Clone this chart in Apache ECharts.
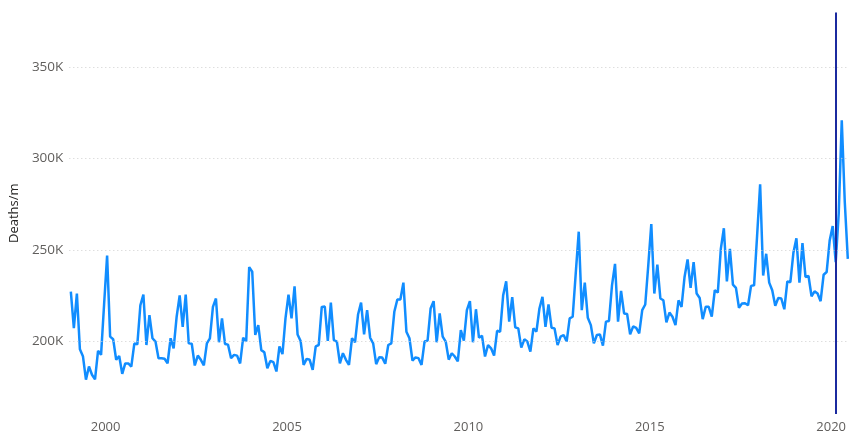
<!DOCTYPE html>
<html>
<head>
<meta charset="utf-8">
<script src="https://cdn.jsdelivr.net/npm/echarts@6/dist/echarts.min.js"></script>
<style>
  html, body { margin: 0; padding: 0; background: #fff; }
  #chart { width: 849px; height: 434px; }
</style>
</head>
<body>
<div id="chart"></div>
<script>
// Monthly deaths (thousands), Jan..Dec
const d1999 = [227, 207, 226, 195.5, 191.7, 178.8, 186, 181.5, 179, 194.6, 192.4, 220];
const d2000 = [246.8, 202.4, 201, 189.7, 191.8, 182, 187.7, 187.7, 186, 198.6, 198.2, 219.6];
const d2001 = [225.4, 197.8, 214.2, 201.5, 199.7, 190.6, 190.6, 190.3, 187.8, 201.5, 196, 213.3];
const d2002 = [225, 207.8, 225.4, 198.7, 198.5, 186.6, 192, 189.7, 186.6, 198.7, 201.5, 218.7];
const d2003 = [223.3, 199.3, 212.4, 198.4, 198, 190.6, 192.4, 192, 187.7, 201.8, 199.7, 240.5];
const d2004 = [238, 203.3, 208.7, 195, 193.8, 185.1, 189.1, 188.4, 183.3, 197, 192.8, 212.4];
const d2005 = [225.4, 212.4, 230, 203.6, 200, 186.9, 190.2, 189.7, 184.2, 197.1, 197.8, 218.7];
const d2006 = [218.9, 200, 221, 200.5, 199.7, 187.8, 193.3, 189.7, 186.9, 201.5, 199.3, 214.5];
const d2007 = [221, 203.6, 216.9, 201.8, 198.7, 187.3, 191.1, 190.9, 187.5, 197.8, 198.7, 216];
const d2008 = [222.7, 222.7, 232, 205.1, 201.5, 189.3, 191, 190.6, 186.9, 199.7, 200.2, 217.8];
const d2009 = [221.8, 199.3, 215.1, 202.4, 199.7, 189.8, 193.3, 191.5, 188.8, 206, 200.2, 216.9];
const d2010 = [221.8, 199.3, 217.4, 201.8, 202.9, 191.5, 197.8, 196, 192, 205.6, 205.1, 225];
const d2011 = [232.7, 210.6, 224, 207.5, 206.9, 196.4, 200.9, 199.7, 194.2, 206.9, 205.1, 217.8];
const d2012 = [224.2, 207.8, 220, 207.3, 206.9, 197.8, 202.4, 203.3, 199.7, 212.4, 213.3, 236.9];
const d2013 = [259.9, 216.9, 232, 212.7, 208.7, 198.7, 203.3, 203.6, 197.5, 210.6, 211, 230.5];
const d2014 = [242.3, 210.6, 227.5, 215.1, 214.8, 203.6, 208, 207.2, 204.2, 216.9, 220, 241.4];
const d2015 = [264.1, 226, 241.8, 223.3, 222.3, 210.2, 215.6, 213.3, 208.7, 222.3, 218.7, 235.1];
const d2016 = [244.7, 229.1, 243.2, 226, 223.6, 212, 218.7, 218.7, 213.3, 227.8, 226.5, 250.5];
const d2017 = [261.8, 232.7, 250.5, 230.9, 229.1, 218.2, 220.5, 220.7, 219.6, 230.2, 230.5, 257.7];
const d2018 = [285.9, 235.9, 247.8, 232, 227.8, 219.3, 223.6, 223.3, 217.4, 232.7, 232.2, 248.3];
const d2019 = [256.3, 232, 253.6, 235.1, 235.6, 224.5, 227.2, 226, 221.8, 236.3, 237.8, 255];
const d2020 = [263, 243.2, 270, 321, 276, 245];

const firstYear = 1999;
const yearly = [d1999, d2000, d2001, d2002, d2003, d2004, d2005, d2006, d2007, d2008, d2009,
                d2010, d2011, d2012, d2013, d2014, d2015, d2016, d2017, d2018, d2019, d2020];

const xTickYears = [2000, 2005, 2010, 2015, 2020];
const yTicks = [200, 250, 300, 350];
const markerYear = 2020 + 1.5 / 12;   // vertical marker (Feb 2020)
const yAxisName = 'Deaths/m';

// Build [decimal year (mid-month), value] pairs
const seriesData = [];
yearly.forEach((arr, yi) => {
  arr.forEach((v, mi) => {
    seriesData.push([firstYear + yi + (mi + 0.5) / 12, v]);
  });
});

const FONT = "'Segoe UI', 'Open Sans', sans-serif";
const chart = echarts.init(document.getElementById('chart'), null, { renderer: 'canvas' });

chart.setOption({
  animation: false,
  grid: { left: 67, right: 0, top: 12.5, bottom: 19 },
  xAxis: {
    type: 'value',
    min: 1999,
    max: 2020.454,
    interval: 1,
    axisLine: { show: false },
    axisTick: { show: false },
    splitLine: { show: false },
    axisLabel: {
      margin: 7,
      color: '#605E5C',
      fontFamily: FONT,
      fontSize: 13,
      showMaxLabel: false,
      formatter: (v) => {
        const r = Math.round(v);
        return (Math.abs(v - r) < 1e-6 && xTickYears.includes(r)) ? String(r) : '';
      }
    }
  },
  yAxis: {
    type: 'value',
    min: 160,
    max: 380,
    interval: 10,
    name: yAxisName,
    nameLocation: 'middle',
    nameGap: 40,
    nameTextStyle: { color: '#252423', fontFamily: FONT, fontSize: 13 },
    axisLine: { show: false },
    axisTick: { show: false },
    splitLine: { show: false },
    axisLabel: {
      margin: 6,
      color: '#605E5C',
      fontFamily: FONT,
      fontSize: 13.5,
      formatter: (v) => {
        const r = Math.round(v);
        return (Math.abs(v - r) < 1e-6 && yTicks.includes(r)) ? r + 'K' : '';
      }
    }
  },
  series: [{
    type: 'line',
    data: seriesData,
    showSymbol: false,
    clip: true,
    lineStyle: { color: '#118DFF', width: 2.5 },
    itemStyle: { color: '#118DFF' },
    z: 2,
    markLine: {
      silent: true,
      symbol: ['none', 'none'],
      label: { show: false },
      emphasis: { disabled: true },
      data: [
        ...yTicks.map(t => ({ yAxis: t, lineStyle: { color: '#cfcfcf', width: 1, type: [1, 3] } })),
        { xAxis: markerYear, lineStyle: { color: '#1B2A9F', width: 2, type: 'solid' } }
      ]
    }
  }]
});
</script>
</body>
</html>
